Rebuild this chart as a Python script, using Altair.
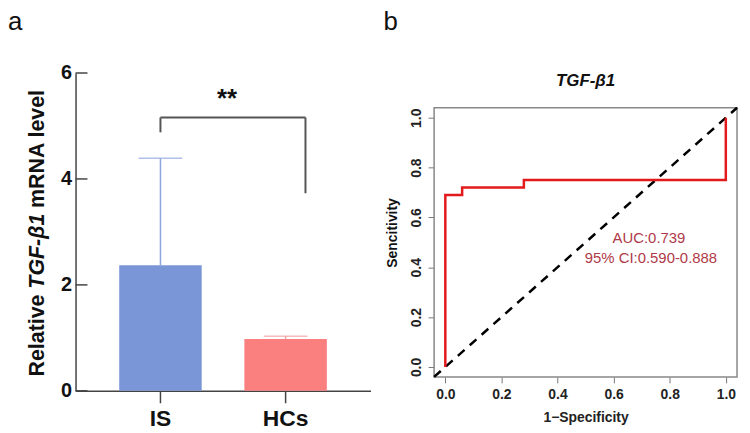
import altair as alt
import pandas as pd

# ---------------- data ----------------
groups = ["IS", "HCs"]
means = [2.37, 0.98]
upper = [4.39, 1.03]
y_ticks = [0, 2, 4, 6]

bracket_top = 5.16
bracket_left_end = 4.88
bracket_right_end = 3.73
sig_label = "**"
sig_y = 5.5

fpr = [0.0, 0.0, 0.06, 0.06, 0.28, 0.28, 1.0, 1.0]
tpr = [0.0, 0.69, 0.69, 0.72, 0.72, 0.75, 0.75, 1.0]
diag = [-0.04, 1.04]
roc_ticks = [0.0, 0.2, 0.4, 0.6, 0.8, 1.0]
box_lo, box_hi = -0.04, 1.04
auc_text = ["AUC:0.739", "95% CI:0.590-0.888"]
auc_x = [0.726, 0.733]
auc_y = [0.518, 0.438]

FONT = "Liberation Sans"

# ---------------- left panel ----------------
W1, H1 = 297, 320
bar_df = pd.DataFrame({"group": groups, "mean": means, "upper": upper})
xscale = alt.Scale(domain=groups, paddingInner=0.341, paddingOuter=0.349)
yscale = alt.Scale(domain=[0, 6], nice=False)

x_enc = alt.X("group:N", scale=xscale, sort=groups,
              axis=alt.Axis(title=None, labelAngle=0, labelFont=FONT, labelFontSize=23,
                            labelFontWeight="bold", labelColor="#111", labelPadding=5,
                            tickSize=12, tickWidth=1.5, tickColor="#444",
                            domainColor="#444", domainWidth=1.5))
y_enc = alt.Y("mean:Q", scale=yscale,
              axis=alt.Axis(title=None, values=y_ticks, ticks=False, grid=False,
                            labelFont=FONT, labelFontSize=20, labelFontWeight="bold",
                            labelColor="#111", labelPadding=4,
                            domainColor="#444", domainWidth=1.5))

bars = alt.Chart(bar_df).mark_bar().encode(
    x=x_enc, y=y_enc,
    color=alt.Color("group:N", scale=alt.Scale(domain=groups, range=["#7b96d6", "#fa8080"]), legend=None))

err_color = alt.condition(alt.datum.group == groups[0], alt.value("#8ea6de"), alt.value("#f7a0a0"))
err = alt.Chart(bar_df).mark_rule(strokeWidth=1.5).encode(
    x=alt.X("group:N", scale=xscale, sort=groups), y="mean:Q", y2="upper:Q", color=err_color)
caps = alt.Chart(bar_df).mark_tick(size=44, thickness=1.5).encode(
    x=alt.X("group:N", scale=xscale, sort=groups), y="upper:Q", color=err_color)

tick_df = pd.DataFrame({"v": y_ticks})
yticks = alt.Chart(tick_df).mark_rule(color="#444", strokeWidth=1.5).encode(
    y=alt.Y("v:Q", scale=yscale), x=alt.value(0), x2=alt.value(12))

br_df = pd.DataFrame({"left": [groups[0]], "right": [groups[1]], "top": [bracket_top],
                      "lend": [bracket_left_end], "rend": [bracket_right_end]})
br_style = dict(color="#555", strokeWidth=2)
br_l = alt.Chart(br_df).mark_rule(**br_style).encode(
    x=alt.X("left:N", scale=xscale), y=alt.Y("lend:Q", scale=yscale), y2="top:Q")
br_h = alt.Chart(br_df).mark_rule(x2Offset=20, **br_style).encode(
    x=alt.X("left:N", scale=xscale), x2="right:N", y=alt.Y("top:Q", scale=yscale))
br_r = alt.Chart(br_df).mark_rule(xOffset=20, **br_style).encode(
    x=alt.X("right:N", scale=xscale), y=alt.Y("rend:Q", scale=yscale), y2="top:Q")

sig_df = pd.DataFrame({"t": [sig_label], "g": [groups[0]], "y": [sig_y]})
sig = alt.Chart(sig_df).mark_text(dx=67, fontSize=26, fontWeight="bold", font=FONT, color="#111").encode(
    x=alt.X("g:N", scale=xscale), y=alt.Y("y:Q", scale=yscale), text="t:N")


def rot_text(txt, xpix, ypix, size, italic=False, align="left"):
    d = pd.DataFrame({"t": [txt]})
    kw = dict(angle=270, align=align, baseline="middle", fontSize=size, fontWeight="bold",
              font=FONT, color="#111")
    if italic:
        kw["fontStyle"] = "italic"
    return alt.Chart(d).mark_text(**kw).encode(text="t:N", x=alt.value(xpix), y=alt.value(ypix))


ttl1 = rot_text("Relative", -38, 305.5, 21.5)
ttl2 = rot_text("TGF-β1", -38, 217.1, 21.5, italic=True)
ttl3 = rot_text("mRNA level", -38, 135.8, 21.5)

lab_a = alt.Chart(pd.DataFrame({"t": ["a"]})).mark_text(
    align="left", baseline="top", fontSize=26, font=FONT, color="#111").encode(
    text="t:N", x=alt.value(-68), y=alt.value(-64))

left = alt.layer(bars, err, caps, yticks, br_l, br_h, br_r, sig, ttl1, ttl2, ttl3, lab_a).properties(
    width=W1, height=H1)

# ---------------- right panel ----------------
# plot area extends 35px above the box so that the two panels keep their offsets
W2, H2 = 305, 306
BOX_H = 271
y_top = box_lo + (box_hi - box_lo) * H2 / BOX_H
rxs = alt.Scale(domain=[box_lo, box_hi], nice=False, zero=False)
rys = alt.Scale(domain=[box_lo, y_top], nice=False, zero=False)
common_axis = dict(grid=False, domain=False, tickSize=6, tickColor="#777", tickWidth=1,
                   labelFont=FONT, labelFontSize=14, labelFontWeight="bold", labelColor="#222",
                   titleFont=FONT, titleFontSize=14, titleFontWeight="bold", titleColor="#222",
                   values=roc_ticks, format=".1f")
rx = alt.X("fpr:Q", scale=rxs, axis=alt.Axis(title="1−Specificity", labelPadding=5, titlePadding=9, **common_axis))
ry = alt.Y("tpr:Q", scale=rys, axis=alt.Axis(title=None, labelAngle=270, labelPadding=5, **common_axis))

roc_df = pd.DataFrame({"fpr": fpr, "tpr": tpr, "step": list(range(len(fpr)))})
box_df = pd.DataFrame({"x0": [box_lo], "x1": [box_hi], "y0": [box_lo], "y1": [box_hi]})
box = alt.Chart(box_df).mark_rect(filled=False, color="#888", strokeWidth=1.5).encode(
    x=alt.X("x0:Q", scale=rxs), x2="x1:Q", y=alt.Y("y0:Q", scale=rys), y2="y1:Q")

diag_df = pd.DataFrame({"d": diag})
diagl = alt.Chart(diag_df).mark_line(color="black", strokeWidth=2.5, strokeDash=[9, 7]).encode(
    x=alt.X("d:Q", scale=rxs), y=alt.Y("d:Q", scale=rys))
roc = alt.Chart(roc_df).mark_line(color="#e31a1c", strokeWidth=2.5).encode(x=rx, y=ry, order="step:O")

auc_df = pd.DataFrame({"t": auc_text, "x": auc_x, "y": auc_y})
auc = alt.Chart(auc_df).mark_text(color="#b03a48", fontSize=15, font=FONT).encode(
    x=alt.X("x:Q", scale=rxs), y=alt.Y("y:Q", scale=rys), text="t:N")

ytitle_r = rot_text("Sencitivity", -41, 161, 14, align="center")
title_b = alt.Chart(pd.DataFrame({"t": ["TGF-β1"]})).mark_text(
    fontSize=17, fontWeight="bold", fontStyle="italic", font=FONT, color="#111", baseline="middle").encode(
    text="t:N", x=alt.value(W2 / 2), y=alt.value(8))
lab_b = alt.Chart(pd.DataFrame({"t": ["b"]})).mark_text(
    align="left", baseline="top", fontSize=26, font=FONT, color="#111").encode(
    text="t:N", x=alt.value(-51), y=alt.value(-64))

right = alt.layer(box, diagl, roc, auc, ytitle_r, title_b, lab_b).properties(width=W2, height=H2)

chart = alt.hconcat(left, right, spacing=13).properties(padding=0).configure_view(strokeWidth=0)

chart.save("out.html", embed_options={"renderer": "svg", "actions": False})
